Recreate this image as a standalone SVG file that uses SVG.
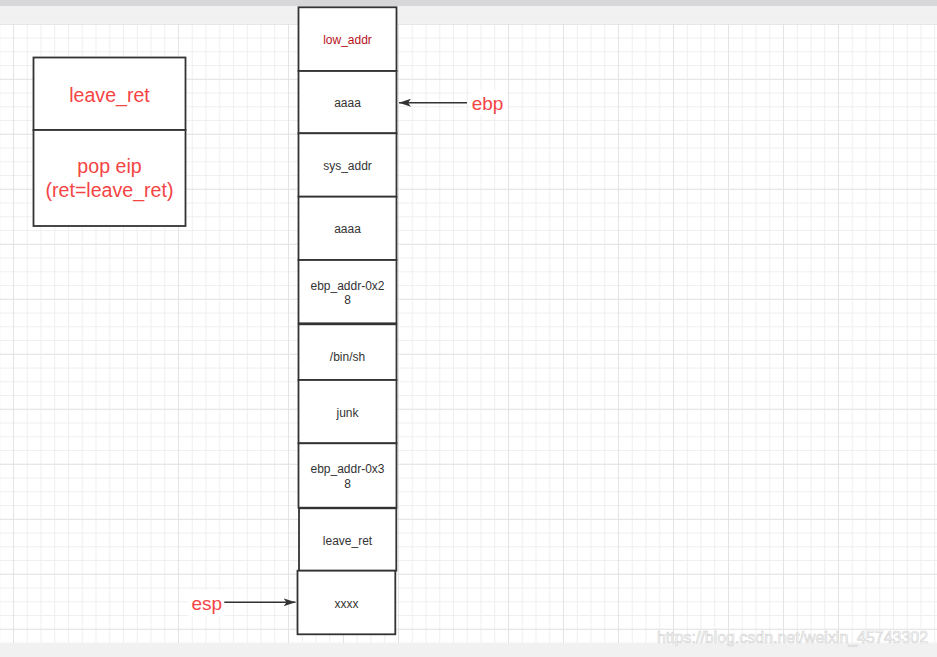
<svg xmlns="http://www.w3.org/2000/svg" width="937" height="657" viewBox="0 0 937 657">
  <style>
    .box { fill: #ffffff; stroke: #333333; stroke-width: 1.8; }
    .st { font-family: "Liberation Sans", Arial, sans-serif; font-size: 12px; fill: #333333; text-anchor: middle; }
    .red { font-family: "Liberation Sans", Arial, sans-serif; font-size: 19.6px; fill: #f54444; text-anchor: middle; }
    .lbl { font-family: "Liberation Sans", Arial, sans-serif; font-size: 19px; fill: #f54444; }
    .edge { stroke: #333333; stroke-width: 1.5; fill: none; }
  </style>
  <defs>
    <pattern id="minor" x="-0.75" y="23.8" width="13.75" height="13.75" patternUnits="userSpaceOnUse">
      <path d="M0.5,0 V13.75 M0,0.5 H13.75" stroke="#efefef" stroke-width="1" fill="none"/>
    </pattern>
    <pattern id="major" x="13" y="23.8" width="55" height="55" patternUnits="userSpaceOnUse">
      <path d="M0.5,0 V55 M0,0.5 H55" stroke="#e4e4e4" stroke-width="1" fill="none"/>
    </pattern>
    <marker id="arr" viewBox="0 0 12 8" refX="12" refY="4" markerWidth="12" markerHeight="8" markerUnits="userSpaceOnUse" orient="auto">
      <path d="M0,0 L12,4 L0,8 L3,4 Z" fill="#333333"/>
    </marker>
  </defs>

  <!-- background -->
  <rect x="0" y="0" width="937" height="657" fill="#ffffff"/>
  <rect x="0" y="23.8" width="937" height="620" fill="url(#minor)"/>
  <rect x="0" y="23.8" width="937" height="620" fill="url(#major)"/>
  <rect x="0" y="0" width="937" height="23.8" fill="#f1f1f1"/>
  <rect x="0" y="0" width="937" height="6" fill="#d7d7d9"/>
  <rect x="0" y="643.3" width="937" height="14" fill="#f1f1f1"/>

  <!-- left box -->
  <g id="left-leave_ret">
    <rect class="box" x="33.5" y="57.5" width="152" height="72.5"/>
    <text class="red" x="109.5" y="101.7">leave_ret</text>
  </g>
  <g id="left-pop_eip">
    <rect class="box" x="33.5" y="130" width="152" height="96"/>
    <text class="red" x="109.5" y="173.3">pop eip</text>
    <text class="red" x="109.5" y="196.7">(ret=leave_ret)</text>
  </g>

  <!-- stack -->
  <g id="s1">
    <rect class="box" x="298.5" y="7.3" width="98" height="63.7"/>
    <text class="st" x="347.5" y="44.2" style="fill:#b5121b">low_addr</text>
  </g>
  <g id="s2">
    <rect class="box" x="298.5" y="71" width="98" height="62.3"/>
    <text class="st" x="347.5" y="107.4">aaaa</text>
  </g>
  <g id="s3">
    <rect class="box" x="298.5" y="133.3" width="98" height="63.4"/>
    <text class="st" x="347.5" y="170.2">sys_addr</text>
  </g>
  <g id="s4">
    <rect class="box" x="298.5" y="196.7" width="98" height="63.3"/>
    <text class="st" x="347.5" y="233.1">aaaa</text>
  </g>
  <g id="s5">
    <rect class="box" x="298.5" y="260" width="98" height="63.3"/>
    <text class="st" x="347.5" y="289.7">ebp_addr-0x2</text>
    <text class="st" x="347.5" y="303.6">8</text>
  </g>
  <g id="s6">
    <rect class="box" x="298.5" y="324.3" width="98" height="55.7"/>
    <text class="st" x="347.5" y="360.5">/bin/sh</text>
  </g>
  <g id="s7">
    <rect class="box" x="298.5" y="380" width="98" height="63.3"/>
    <text class="st" x="347.5" y="416.5">junk</text>
  </g>
  <g id="s8">
    <rect class="box" x="298.5" y="443.3" width="98" height="64.4"/>
    <text class="st" x="347.5" y="473.3">ebp_addr-0x3</text>
    <text class="st" x="347.5" y="487.6">8</text>
  </g>
  <g id="s9">
    <rect class="box" x="299" y="508.3" width="97.3" height="62.4"/>
    <text class="st" x="347.5" y="545">leave_ret</text>
  </g>
  <g id="s10">
    <rect class="box" x="297.5" y="570.7" width="97.8" height="63.6"/>
    <text class="st" x="346.5" y="607.5">xxxx</text>
  </g>

  <!-- labels -->
  <g id="ebp">
    <rect x="470.7" y="90" width="36" height="25" fill="#ffffff"/>
    <text class="lbl" x="471.7" y="110">ebp</text>
  </g>
  <g id="esp">
    <rect x="188.5" y="590" width="35.5" height="26" fill="#ffffff"/>
    <text class="lbl" x="191.5" y="610">esp</text>
  </g>

  <!-- connectors -->
  <g id="connectors">
    <path class="edge" d="M467,102.7 H399" marker-end="url(#arr)"/>
    <path class="edge" d="M224.3,602.3 H295.5" marker-end="url(#arr)"/>
  </g>

  <!-- watermark -->
  <text x="657" y="643" font-family="Liberation Sans, Arial, sans-serif" font-size="16" textLength="271" lengthAdjust="spacingAndGlyphs" fill="#fbfbfb" stroke="#d2d2d2" stroke-width="0.6">https://blog.csdn.net/weixin_45743302</text>
</svg>
